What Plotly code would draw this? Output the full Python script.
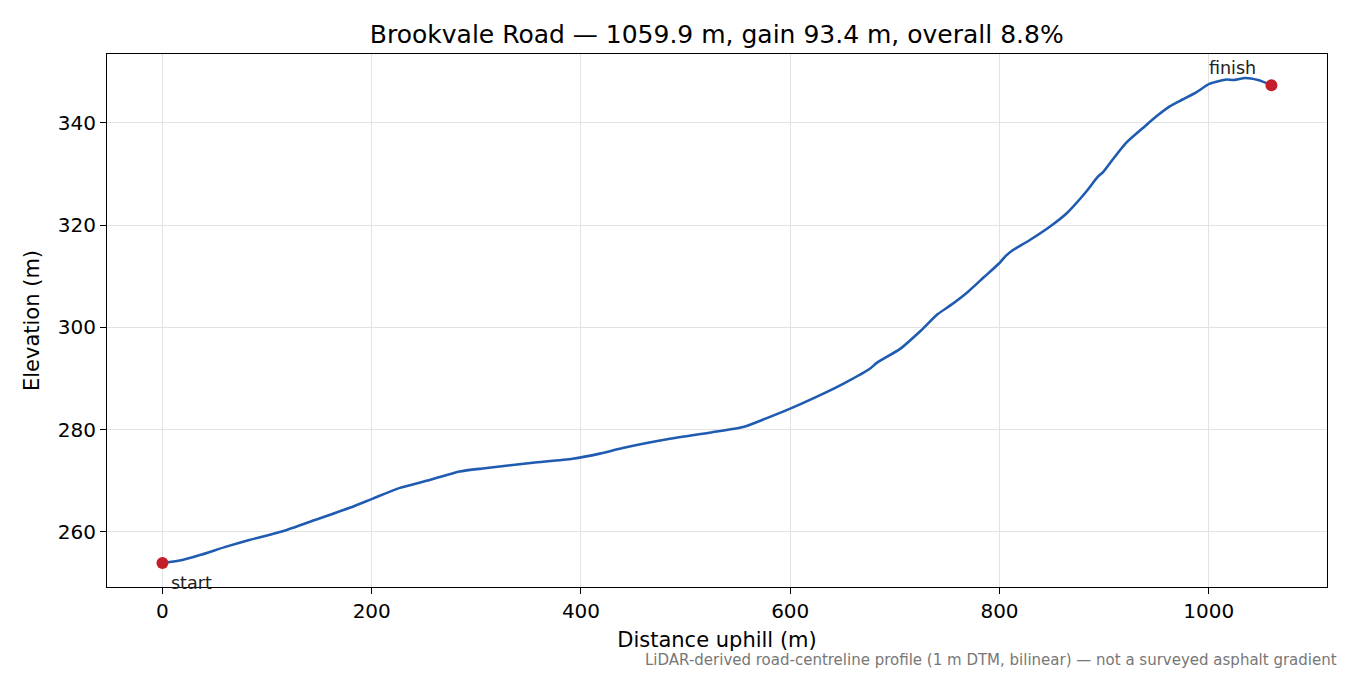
import plotly.graph_objects as go

# elevation profile
distance = [0, 19, 35, 61, 83, 115, 147, 179, 201, 227, 258, 284, 306, 354, 392, 418,
            440, 485, 523, 555, 577, 600, 625, 651, 676, 683, 705, 725, 741, 753,
            770, 785, 800, 806, 812, 829, 848, 864, 883, 894, 899, 908, 921, 937,
            950, 963, 975, 988, 1001, 1017, 1023, 1035, 1047, 1059.9]
elevation = [253.9, 254.5, 255.4, 257.1, 258.4, 260.1, 262.4, 264.7, 266.5, 268.6,
             270.3, 271.8, 272.4, 273.5, 274.3, 275.3, 276.4, 278.2, 279.4, 280.5,
             282.2, 284.1, 286.4, 289.0, 291.9, 293.1, 295.8, 299.4, 302.6, 304.3,
             307.0, 309.8, 312.6, 314.0, 315.0, 317.1, 319.7, 322.3, 326.6, 329.5,
             330.4, 332.8, 336.1, 339.0, 341.3, 343.3, 344.6, 346.0, 347.7, 348.5,
             348.4, 348.8, 348.4, 347.4]

x_ticks = [0, 200, 400, 600, 800, 1000]
y_ticks = [260, 280, 300, 320, 340]

title = "Brookvale Road — 1059.9 m, gain 93.4 m, overall 8.8%"
note = "LiDAR-derived road-centreline profile (1 m DTM, bilinear) — not a surveyed asphalt gradient"

line_col = "#1f5bb0"
dot_col = "#c41e2a"
font = "DejaVu Sans"

fig = go.Figure()
fig.add_trace(go.Scatter(x=distance, y=elevation, mode="lines",
                         line=dict(color=line_col, width=2.6, shape="spline", smoothing=0.6),
                         hoverinfo="skip"))
fig.add_trace(go.Scatter(x=[distance[0], distance[-1]], y=[elevation[0], elevation[-1]],
                         mode="markers", marker=dict(color=dot_col, size=12)))

fig.add_annotation(x=distance[0], y=elevation[0], text="start", showarrow=False,
                   xanchor="left", yanchor="middle", xshift=7, yshift=-20,
                   font=dict(size=17.5, color="#222"))
fig.add_annotation(x=distance[-1], y=elevation[-1], text="finish", showarrow=False,
                   xanchor="right", yanchor="middle", xshift=-13, yshift=17,
                   font=dict(size=17.5, color="#222"))
fig.add_annotation(xref="paper", yref="paper", x=1.0098, y=-0.137, text=note,
                   showarrow=False, xanchor="right", yanchor="middle",
                   font=dict(size=15, color="#777"))

axis = dict(showline=True, linecolor="black", linewidth=1.2, mirror=True,
            ticks="outside", ticklen=6, tickwidth=1.2, tickcolor="black",
            showgrid=True, gridcolor="#e3e3e3", gridwidth=1, zeroline=False,
            tickfont=dict(size=20, color="black"))

# page body has an 8px margin, so the margins are offset to keep the frame in place
fig.update_layout(
    width=1350, height=675, showlegend=False,
    plot_bgcolor="white", paper_bgcolor="white",
    margin=dict(l=99, r=31, t=46, b=96),
    font=dict(family=font, color="black"),
    title=dict(text=title, x=0.525, xanchor="center", y=0.9615, yanchor="middle",
               font=dict(size=25)),
    xaxis=dict(axis, range=[-53, 1113], tickvals=x_ticks,
               title=dict(text="Distance uphill (m)", font=dict(size=21), standoff=10)),
    yaxis=dict(axis, range=[249.2, 353.5], tickvals=y_ticks,
               title=dict(text="Elevation (m)", font=dict(size=21), standoff=12)),
)

fig.write_html("out.html")
